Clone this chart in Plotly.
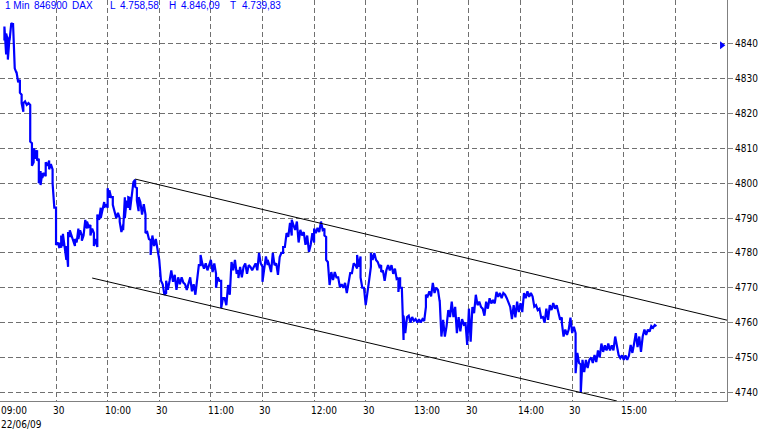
import pandas as pd
import plotly.graph_objects as go

# ---------------- data ----------------
session_date = "2009-06-22"
open_time = "09:00"

# minutes after 09:00 and price (pairs give the 1-minute high/low extents)
minute = [0,0,1,1,2,2,3,3,4,5,5,6,6,7,7,8,9,9,10,10,11,11,12,13,14,15,15,16,16,17,17,18,18,19,19,20,20,21,21,22,22,23,24,24,25,26,26,27,28,28,29,30,30,31,32,32,33,33,34,34,35,36,36,37,37,38,38,39,40,41,41,42,43,43,44,45,45,46,47,48,48,49,50,50,51,52,52,53,54,54,55,56,56,57,58,58,59,60,60,61,61,62,63,63,64,65,66,67,67,68,69,69,70,70,71,72,72,73,73,74,75,76,76,77,77,78,78,79,80,81,82,82,83,84,85,85,86,87,88,89,90,91,92,93,94,94,95,96,97,98,99,100,101,102,103,104,105,106,107,108,109,110,111,112,113,114,114,115,116,117,118,119,120,121,122,123,123,124,125,126,126,127,128,129,130,131,132,133,134,135,136,136,137,138,139,140,141,142,143,144,145,146,147,148,149,150,150,151,152,153,153,154,155,156,157,158,159,160,161,162,162,163,164,165,166,167,167,168,169,170,171,172,173,174,175,176,177,178,179,180,180,181,182,183,184,185,186,186,187,187,188,189,190,191,192,193,194,195,196,197,198,199,200,201,202,203,204,205,205,206,207,207,208,209,210,211,212,213,213,214,215,216,217,218,219,219,220,221,222,223,224,225,226,227,228,229,229,230,230,231,232,232,233,234,235,236,237,238,239,240,241,242,243,244,245,245,246,247,248,249,250,251,252,253,253,254,255,256,257,258,259,260,261,262,263,264,265,266,267,268,269,270,271,272,273,274,275,276,277,278,279,280,281,282,283,284,285,286,287,288,289,290,291,292,293,294,295,296,297,298,299,300,301,302,303,304,305,306,307,308,309,310,311,312,313,314,315,316,317,318,319,320,321,322,323,324,324,325,326,327,328,329,330,331,332,332,333,334,335,335,336,337,338,339,340,341,342,343,344,345,346,347,348,349,350,351,352,353,354,355,356,357,358,359,360,361,362,363,364,365,366,367,368,369,370,371,372,373,374,375,376,377,378,379]
price = [4841,4845,4837,4843,4841,4835.5,4842,4841,4846,4845.5,4846,4834,4833,4831.7,4832,4829,4829.7,4826,4825.4,4823,4820.5,4823,4823.5,4822.5,4823,4822.5,4812,4811.5,4805,4806,4810,4809,4807,4809.5,4806.5,4807,4800,4803.5,4799.5,4803,4801.5,4803,4802,4806,4805,4806.5,4804,4805.5,4804,4800,4793,4793,4782.3,4783,4781.4,4783,4781.5,4785,4782,4785.5,4781,4778,4782,4776,4786,4784.6,4786.5,4785,4784,4782,4784,4783,4787,4784,4786.5,4785,4783.5,4785,4789.5,4787,4789,4787.5,4788,4785,4787,4785.7,4782,4784,4781.7,4791,4789.5,4793,4790,4792,4794.6,4793,4794,4793,4798.6,4795.8,4798,4796,4796,4793.8,4792,4790,4791.5,4790,4789,4786,4788,4786.5,4796,4790,4795,4793,4796,4795.8,4792.3,4796,4800.4,4801,4799,4798.6,4795,4792,4796,4794.6,4791,4794,4791,4785.7,4786,4784,4783.7,4779.4,4785,4782,4784,4781,4778,4772,4771,4768,4768.5,4772,4769.4,4772,4775,4771.7,4773.7,4769.4,4773,4771,4773,4771.5,4771,4769.4,4771,4773,4769,4771,4768,4772.2,4776.5,4776.5,4779.4,4777,4775.5,4777,4775,4776.5,4778,4774.5,4777,4774,4770,4773,4772,4772,4764.2,4767,4767,4765,4770.8,4768,4777.4,4775,4778,4774,4775,4772.8,4776,4773,4776,4777,4774,4776.5,4776,4775,4776,4777,4775,4780,4777,4776,4771.7,4776,4779,4776.5,4778,4776.5,4774.5,4780,4776.5,4777,4773.7,4778.8,4780,4780,4781.7,4781.7,4785.7,4784.6,4788.6,4785,4789.5,4788,4786.6,4789,4783,4786.6,4785,4786,4782.3,4785,4780.3,4782.3,4785.7,4783,4787,4785.7,4787.2,4786,4789,4786.6,4787,4785,4784.6,4778,4777.4,4770.8,4774.5,4772.2,4774.5,4773,4773,4770.2,4771,4770,4771.4,4768.5,4771.4,4774.2,4774.2,4777,4776.5,4775.5,4779.4,4776,4779,4773,4770,4770,4765,4768,4772.2,4776,4780,4778,4780,4778,4777.4,4776,4776.5,4774.5,4775,4772,4775,4776.5,4775,4776.5,4774,4775.5,4772.5,4772.8,4768.8,4773,4770,4770,4755,4762,4757,4761.6,4762,4760,4761.6,4760.5,4761,4760,4761,4760,4761,4760.5,4764.5,4768,4767.5,4769,4767.5,4771.4,4768.5,4770,4769.4,4766,4766.5,4756,4760.8,4756,4759,4763.6,4761.6,4766,4761.6,4764.5,4757,4761.6,4757.5,4761,4759.5,4760,4753.6,4764,4754.5,4764.5,4762.7,4768,4765,4766,4764.5,4764,4762,4766,4764,4767,4765.5,4766.5,4765.5,4768.8,4767.4,4768.5,4767,4768.5,4768,4767,4765.6,4764.5,4761,4765,4761.5,4766,4763,4765.6,4763,4768.5,4767,4769,4767.4,4768.5,4767.5,4764.6,4765,4763.6,4764,4761.4,4761.6,4760,4764,4760.8,4765,4763.6,4765.6,4764,4765,4763,4760.8,4761.5,4760,4756,4758,4756.5,4758,4761.4,4757,4758.8,4757,4745.5,4751.3,4748.4,4748,4739.8,4749.3,4745.8,4749.3,4747,4749.3,4750,4748.4,4750.7,4748.7,4752,4750,4754,4751.6,4753.5,4752,4754,4752,4753.5,4752,4756,4753,4750.7,4749.8,4750.6,4749.3,4750.6,4749.3,4750.5,4753.6,4751.3,4754,4757,4753,4756,4751.6,4756,4758,4756.5,4758,4757.4,4759,4758.5,4759.3,4759]

# trend channel lines (time, price)
upper_line_time = ["10:16", "16:00"]
upper_line_price = [4801.2, 4760.7]
lower_line_time = ["09:51", "14:56"]
lower_line_price = [4772.8, 4737.5]

# alert marker at right edge
alert_time = "15:57"
alert_price = 4839.6

# header
header_texts = ["1 Min", "846900", "DAX", "L", "4.758,58", "H", "4.846,09", "T", "4.739,83"]
header_px = [4, 33, 71, 109, 119, 168, 180, 229, 241]

# axes
x_tick_times = ["09:00", "09:30", "10:00", "10:30", "11:00", "11:30", "12:00",
                "12:30", "13:00", "13:30", "14:00", "14:30", "15:00"]
x_tick_labels = ["09:00", "30", "10:00", "30", "11:00", "30", "12:00",
                 "30", "13:00", "30", "14:00", "30", "15:00"]
x_grid_times = ["09:30", "10:00", "10:30", "11:00", "11:30", "12:00", "12:30",
                "13:00", "13:30", "14:00", "14:30", "15:00", "15:30"]
date_label = "22/06/09"
y_ticks = [4740, 4750, 4760, 4770, 4780, 4790, 4800, 4810, 4820, 4830, 4840]
x_range = ["2009-06-22 08:57:26", "2009-06-22 16:00"]
y_range = [4737.5, 4852.6]

# ---------------- build ----------------
def ts(hhmm):
    return f"{session_date} {hhmm}"

base = pd.Timestamp(ts(open_time))
times = [base + pd.Timedelta(minutes=m) for m in minute]

W, H = 758, 431
ML, MR, MT, MB = 0, 31, 0, 30
plot_w = W - ML - MR

fig = go.Figure()
fig.add_trace(go.Scatter(x=times, y=price, mode="lines",
                         line=dict(color="#0000FF", width=2.2),
                         hoverinfo="skip"))
fig.add_trace(go.Scatter(x=[ts(t) for t in upper_line_time], y=upper_line_price,
                         mode="lines", line=dict(color="black", width=1),
                         hoverinfo="skip"))
fig.add_trace(go.Scatter(x=[ts(t) for t in lower_line_time], y=lower_line_price,
                         mode="lines", line=dict(color="black", width=1),
                         hoverinfo="skip"))
fig.add_trace(go.Scatter(x=[ts(alert_time)], y=[alert_price], mode="markers",
                         marker=dict(symbol="triangle-right", size=7, color="#0000FF"),
                         hoverinfo="skip"))

tick_font = dict(family="DejaVu Sans Condensed, Liberation Sans", size=10, color="black")
annotations = []
for txt, px in zip(header_texts, header_px):
    annotations.append(dict(text=txt, x=px / plot_w, xref="paper", y=1, yref="paper",
                            xanchor="left", yanchor="top", showarrow=False, yshift=2,
                            xshift=-1,
                            font=dict(family="Liberation Sans, Arial", size=10, color="#0000FF")))
for t, lab in zip(x_tick_times, x_tick_labels):
    annotations.append(dict(text=lab, x=ts(t), xref="x", y=0, yref="paper",
                            xanchor="left", yanchor="top", showarrow=False,
                            xshift=-5, yshift=-2, font=tick_font))
annotations.append(dict(text=date_label, x=ts(x_tick_times[0]), xref="x", y=0, yref="paper",
                        xanchor="left", yanchor="top", showarrow=False,
                        xshift=-5, yshift=-16, font=tick_font))

grid_col = "#707070"
fig.update_layout(
    width=W, height=H,
    margin=dict(l=ML, r=MR, t=MT, b=MB, autoexpand=False),
    paper_bgcolor="white", plot_bgcolor="white",
    showlegend=False,
    hovermode=False,
    annotations=annotations,
    xaxis=dict(type="date", range=x_range, tickvals=[ts(t) for t in x_grid_times],
               showticklabels=False, showgrid=True, gridcolor=grid_col, griddash="5px,3px",
               gridwidth=1, showline=True, linecolor="#808080", linewidth=1,
               zeroline=False, ticks="", automargin=False),
    yaxis=dict(side="right", range=y_range, tickvals=y_ticks,
               ticktext=[str(v) for v in y_ticks], automargin=False,
               showgrid=True, gridcolor=grid_col, griddash="5px,3px", gridwidth=1,
               showline=True, linecolor="#808080", linewidth=1, zeroline=False,
               ticks="outside", ticklen=5, tickcolor="#808080",
               tickfont=tick_font),
)

fig.write_html("out.html", config={"displayModeBar": False, "staticPlot": True})

# remove the browser's default page margin so the figure sits at the top-left corner
with open("out.html", "r", encoding="utf-8") as f:
    html = f.read()
html = html.replace("<head>", "<head><style>html,body{margin:0;padding:0;overflow:hidden}</style>", 1)
with open("out.html", "w", encoding="utf-8") as f:
    f.write(html)
